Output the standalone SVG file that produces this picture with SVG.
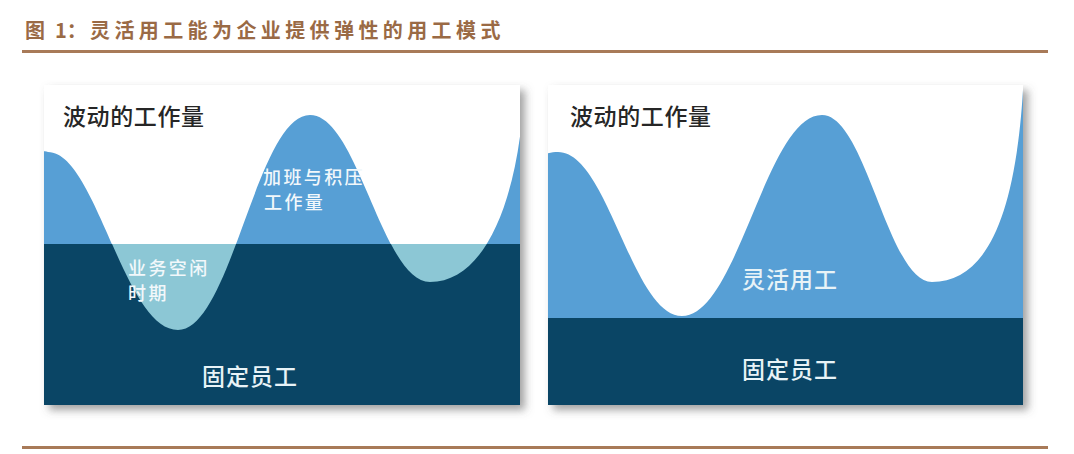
<svg xmlns="http://www.w3.org/2000/svg" width="1074" height="454" viewBox="0 0 1074 454">
<style>
.title{font-family:"Noto Sans CJK SC","Noto Sans",sans-serif;font-weight:700;font-size:20px;fill:#9A6A45;letter-spacing:4.4px}
.head{font-family:"Noto Sans CJK SC","Noto Sans",sans-serif;font-size:23px;fill:#262626;font-weight:500;letter-spacing:0.6px}
.big{font-family:"Noto Sans CJK SC","Noto Sans",sans-serif;font-size:23px;fill:#E8F3F7;font-weight:500;letter-spacing:1px}
.small{font-family:"Noto Sans CJK SC","Noto Sans",sans-serif;font-size:18px;fill:#F2F8FB;font-weight:500;letter-spacing:2.4px}
.rule{stroke:#A87A58;stroke-width:3}
.blue{fill:#579FD5}
.dark{fill:#0A4565}
.teal{fill:#8CC7D5}
</style>
<defs>
<filter id="sh" x="-5%" y="-5%" width="115%" height="120%">
<feDropShadow dx="5" dy="5" stdDeviation="4" flood-color="#555" flood-opacity="0.55"/>
</filter>
<clipPath id="cpL"><rect x="44" y="85" width="476" height="320"/></clipPath>
<clipPath id="cpLband"><rect x="44" y="244" width="476" height="161"/></clipPath>
<clipPath id="cpR"><rect x="548" y="85" width="475" height="320"/></clipPath>
</defs>
<rect width="1074" height="454" fill="#fff"/>
<g id="title">
<text class="title" x="25" y="38" style="letter-spacing:0">图</text>
<text class="title" x="55" y="38" style="letter-spacing:0">1：</text>
<text class="title" x="90" y="38">灵活用工能为企业提供弹性的用工模式</text>
</g>
<g id="rules">
<line class="rule" x1="22" y1="51.5" x2="1048" y2="51.5"/>
<line class="rule" x1="22" y1="447.5" x2="1048" y2="447.5"/>
</g>
<g id="panel-left">
<rect x="44" y="85" width="476" height="320" fill="#fff" filter="url(#sh)"/>
<g clip-path="url(#cpL)">
<path class="blue" d="M40,152 C44,151 46,151 48,152 C96,152 124,330 178,330 C231,330 257,115 310,115 C358,115 382,282 430,282 C480,282 512,215 522,120 L530,85 L530,410 L40,410 Z"/>
<rect class="teal" x="44" y="244" width="476" height="161"/>
<path class="dark" clip-path="url(#cpLband)" d="M40,152 C44,151 46,151 48,152 C96,152 124,330 178,330 C231,330 257,115 310,115 C358,115 382,282 430,282 C480,282 512,215 522,120 L530,85 L530,410 L40,410 Z"/>
</g>
<text class="head" x="63" y="125">波动的工作量</text>
<text class="small" x="263" y="184">加班与积压</text>
<text class="small" x="264" y="209">工作量</text>
<text class="small" x="128" y="275">业务空闲</text>
<text class="small" x="128" y="300">时期</text>
<text class="big" x="202" y="385">固定员工</text>
</g>
<g id="panel-right">
<rect x="548" y="85" width="475" height="320" fill="#fff" filter="url(#sh)"/>
<g clip-path="url(#cpR)">
<path class="blue" d="M540,156 C548,153 552,152 558,152 C608,152 632,316 682,316 C738,316 766,115 822,115 C866,115 888,282 932,282 C985,282 1015,220 1023,90 L1030,85 L1030,410 L540,410 Z"/>
<rect class="dark" x="548" y="318" width="475" height="87"/>
</g>
<text class="head" x="570" y="125">波动的工作量</text>
<text class="big" x="742" y="288">灵活用工</text>
<text class="big" x="742" y="378">固定员工</text>
</g>
<g id="connectors"/>
</svg>
